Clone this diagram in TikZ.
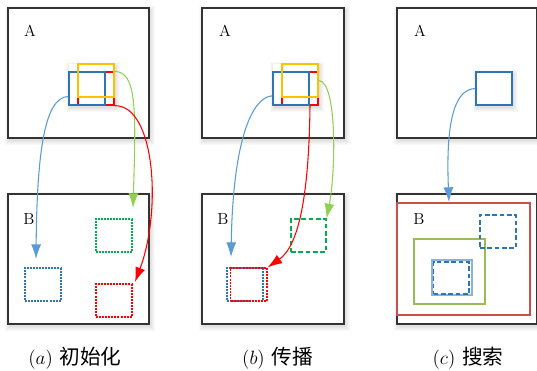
\documentclass[tikz,border=0pt]{standalone}
\usepackage{fontspec}
\newfontfamily\cjk{Noto Sans CJK SC}
\usetikzlibrary{arrows.meta,fit}
\definecolor{cblue}{HTML}{2E75B6}
\definecolor{cbluel}{HTML}{5B9BD5}
\definecolor{cyel}{HTML}{FFC000}
\definecolor{cred}{HTML}{FF0000}
\definecolor{cgreen}{HTML}{92D050}
\definecolor{cgreend}{HTML}{00B050}
\definecolor{cbrick}{HTML}{C9504D}
\definecolor{colive}{HTML}{9BBB59}
\definecolor{cpale}{HTML}{8FB0DC}
\newcommand\softsh[4]{\foreach \s in {0.5,1.5,2.5,3.5,4.5}{\fill[black,opacity=0.025] (#1-\s+1.5,#2-\s+2.5) rectangle (#3+\s+1.5,#4+\s+2.5);}}
\begin{document}
\begin{tikzpicture}[x=0.75pt,y=-0.75pt,
  frame/.style={draw=black!80,line width=1.1pt,fill=white,inner sep=0pt},
  sbox/.style={draw=#1,line width=1pt,inner sep=0pt},
  dotbox/.style={draw=#1,line width=0.9pt,inner sep=0pt,dash pattern=on 1.5pt off 0.8pt},
  dashbox/.style={draw=#1,line width=0.9pt,inner sep=0pt,dash pattern=on 3.5pt off 2pt},
  conn/.style={draw=#1,line width=0.8pt,-{Latex[length=11pt,width=7.5pt]}},
  lbl/.style={font=\fontsize{12}{14}\selectfont,inner sep=0pt},
  captxt/.style={font=\fontsize{15.5}{18}\selectfont,inner sep=0pt}]
\useasboundingbox[fill=white] (0,0) rectangle (537,371);

% ---------- frames ----------
\softsh{8}{8}{149}{138}
\softsh{8}{194}{149}{324}
\softsh{202}{8}{344}{138}
\softsh{202}{194}{344}{324}
\softsh{397}{8}{536.5}{138}
\softsh{397}{194}{536.5}{324}
\node[frame,fit={(8,8)(149,138)}] (aA) {};
\node[frame,fit={(8,194)(149,324)}] (aB) {};
\node[frame,fit={(202,8)(344,138)}] (bA) {};
\node[frame,fit={(202,194)(344,324)}] (bB) {};
\node[frame,fit={(397,8)(536.5,138)}] (cA) {};
\node[frame,fit={(397,194)(536.5,324)}] (cB) {};

\node[lbl] (laA) at (30,31) {A};
\node[lbl] (laB) at (29,219) {B};
\node[lbl] (lbA) at (225,31) {A};
\node[lbl] (lbB) at (223,219) {B};
\node[lbl] (lcA) at (420,31) {A};
\node[lbl] (lcB) at (419,219) {B};

% ---------- (a) ----------
\softsh{69}{64}{114}{105}
\fill[white] (69,64) rectangle (114,105);
\node[sbox=cred,fit={(78,72)(114,105)}] (ared) {};
\node[sbox=cblue,fit={(69,72)(105,105)}] (ablue) {};
\node[sbox=cyel,fit={(78,64)(114,97)}] (ayel) {};

\node[dotbox=cgreend,fit={(96,219)(132,252)}] (aBgreen) {};
\node[dotbox=cblue,fit={(25,268)(61,301)}] (aBblue) {};
\node[dotbox=cred,fit={(96,284)(132,317)}] (aBred) {};

\coordinate (atipb) at (36,259);
\coordinate (atipg) at (133,208);
\coordinate (atipr) at (135,282);
\draw[conn=cbluel] ([yshift=-6pt]ablue.west) .. controls (45,97) and (37,150) .. (atipb);
\draw[conn=cgreen] (ared.north east) .. controls (137,72) and (136,110) .. (atipg);
\draw[conn=cred] (ared.south east) .. controls (155,105) and (162,210) .. (atipr);

% ---------- (b) ----------
\softsh{273}{64}{318}{105}
\fill[white] (273,64) rectangle (318,105);
\node[sbox=cred,fit={(282,72)(318,105)}] (bred) {};
\node[sbox=cblue,fit={(273,72)(309,105)}] (bblue) {};
\node[sbox=cyel,fit={(282,64)(318,97)}] (byel) {};

\node[dashbox=cgreend,fit={(291,219)(326,252)}] (bBgreen) {};
\node[dotbox=cblue,fit={(227,268)(263,301)}] (bBblue) {};
\node[dotbox=cred,fit={(230.5,268)(267,301)}] (bBred) {};

\coordinate (btipb) at (231,257);
\draw[conn=cbluel] ([yshift=-5.5pt]bblue.west) .. controls (252,97) and (233,140) .. (btipb);
\draw[conn=cred] ([xshift=7.5pt]bred.south) .. controls (309,190) and (300,245) .. (bBred.north east);
\draw[conn=cgreen] (byel.east) .. controls (337,81) and (336,170) .. (bBgreen.north east);

% ---------- (c) ----------
\softsh{476}{72}{512}{105}
\node[sbox=cblue,fill=white,fit={(476,72)(512,105)}] (cblue) {};
\node[draw=cbrick,line width=0.9pt,inner sep=0pt,fit={(397,203)(530,315)}] (cBred) {};
\node[draw=colive,line width=0.9pt,inner sep=0pt,fit={(414,239)(485,304)}] (cBgreen) {};
\node[draw=cpale,line width=1.4pt,inner sep=0pt,fit={(432,260)(472,295)}] (cBpale) {};
\node[dashbox=cblue,fit={(433.5,262)(469,294)}] (cBdash) {};
\node[dashbox=cblue,fit={(480,215)(516,248)}] (cBdash2) {};

\coordinate (ctip) at (449,202);
\draw[conn=cbluel] (cblue.west) .. controls (452,89) and (446,130) .. (ctip);

% ---------- captions ----------
\node[captxt] (capa) at (75,358) {$(a)$\hspace{5pt}{\cjk 初始化}};
\node[captxt] (capb) at (277.5,358) {$(b)$\hspace{5pt}{\cjk 传播}};
\node[captxt] (capc) at (468,358) {$(c)$\hspace{5pt}{\cjk 搜索}};
\end{tikzpicture}
\end{document}
